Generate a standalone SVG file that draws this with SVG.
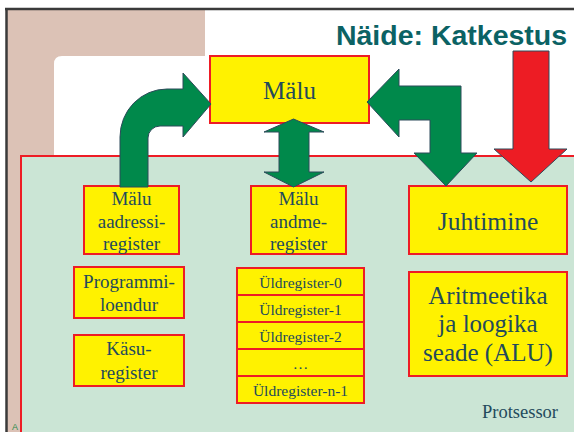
<svg xmlns="http://www.w3.org/2000/svg" width="574" height="432" viewBox="0 0 574 432">
<style>
.box{fill:#fff200;stroke:#ee1c25;stroke-width:2}
.t{font-family:"Liberation Serif","Times New Roman",serif;fill:#234a5c;text-anchor:middle}
.arrow{stroke:#2d4a5a;stroke-width:1;stroke-linejoin:miter}
.g{fill:#00894b}
.r{fill:#ed1c24}
</style>
<rect x="0" y="0" width="574" height="432" fill="#ffffff"/>
<g id="background">
<path d="M7,10 H205 V56 H62 Q54,56 54,64 V432 H7 Z" fill="#dcc2b6"/>
<line x1="6.5" y1="8" x2="6.5" y2="432" stroke="#3a3a3a" stroke-width="2.5"/>
<line x1="5" y1="9" x2="574" y2="9" stroke="#3a3a3a" stroke-width="2.5"/>
<text x="12" y="429.5" font-family="Liberation Sans, Arial, sans-serif" font-size="9" fill="#2a8a4a">A</text>
</g>
<g id="protsessor">
<rect x="21" y="156" width="560" height="290" fill="#cbe5d5" stroke="#ee1c25" stroke-width="2"/>
<text class="t" x="520" y="418" font-size="18.5">Protsessor</text>
</g>
<text x="451.5" y="45" font-family="Liberation Sans, Arial, sans-serif" font-weight="bold" font-size="28.5" fill="#0b6264" text-anchor="middle">Näide: Katkestus</text>
<g id="malu">
<rect class="box" x="210" y="56" width="159" height="67"/>
<text class="t" x="289.5" y="99" font-size="25">Mälu</text>
</g>
<g id="mar">
<rect class="box" x="84" y="186" width="95" height="68"/>
<text class="t" x="131.5" y="205" font-size="19">Mälu</text>
<text class="t" x="131.5" y="227.5" font-size="19">aadressi-</text>
<text class="t" x="131.5" y="250" font-size="19">register</text>
</g>
<g id="pc">
<rect class="box" x="74" y="267" width="110" height="51"/>
<text class="t" x="129" y="287.5" font-size="19">Programmi-</text>
<text class="t" x="129" y="310.5" font-size="19">loendur</text>
</g>
<g id="ir">
<rect class="box" x="74" y="335" width="110" height="51"/>
<text class="t" x="129" y="355" font-size="19">Käsu-</text>
<text class="t" x="129" y="378.5" font-size="19">register</text>
</g>
<g id="mdr">
<rect class="box" x="251" y="186" width="95" height="68"/>
<text class="t" x="298.5" y="205" font-size="19">Mälu</text>
<text class="t" x="298.5" y="227.5" font-size="19">andme-</text>
<text class="t" x="298.5" y="250" font-size="19">register</text>
</g>
<g id="yldregistrid">
<rect class="box" x="237" y="268" width="127" height="27"/>
<text class="t" x="300.5" y="287.5" font-size="15.5">Üldregister-0</text>
<rect class="box" x="237" y="295" width="127" height="27"/>
<text class="t" x="300.5" y="314.5" font-size="15.5">Üldregister-1</text>
<rect class="box" x="237" y="322" width="127" height="27"/>
<text class="t" x="300.5" y="341.5" font-size="15.5">Üldregister-2</text>
<rect class="box" x="237" y="349" width="127" height="27"/>
<text class="t" x="300.5" y="368.5" font-size="15.5">…</text>
<rect class="box" x="237" y="376" width="127" height="27"/>
<text class="t" x="300.5" y="395.5" font-size="15.5">Üldregister-n-1</text>
</g>
<g id="juhtimine">
<rect class="box" x="409" y="186" width="158" height="68"/>
<text class="t" x="488" y="230" font-size="25.5">Juhtimine</text>
</g>
<g id="alu">
<rect class="box" x="409" y="272" width="158" height="104"/>
<text class="t" x="488" y="303.5" font-size="25">Aritmeetika</text>
<text class="t" x="488" y="332" font-size="25">ja loogika</text>
<text class="t" x="488" y="361" font-size="25">seade (ALU)</text>
</g>
<g id="connectors">
<path class="arrow g" d="M120,187 L120,137 A47,48 0 0 1 167,89 L183,89 L183,73 L211,104 L183,137 L183,126 L160,126 A12,12 0 0 0 148,138 L148,187 Z"/>
<path class="arrow g" d="M293.5,119 L324,132 L309,132 L309,172 L324,172 L293.5,187 L264,172 L279,172 L279,132 L264,132 Z"/>
<path class="arrow g" d="M367,102 L399,69 L399,86 L461,86 L461,153 L477,153 L446,186 L414,153 L430,153 L430,120 L399,120 L399,137 Z"/>
<path class="arrow r" d="M513,51 L549,51 L549,149 L567,149 L531,182 L494,149 L513,149 Z"/>
</g>
</svg>
